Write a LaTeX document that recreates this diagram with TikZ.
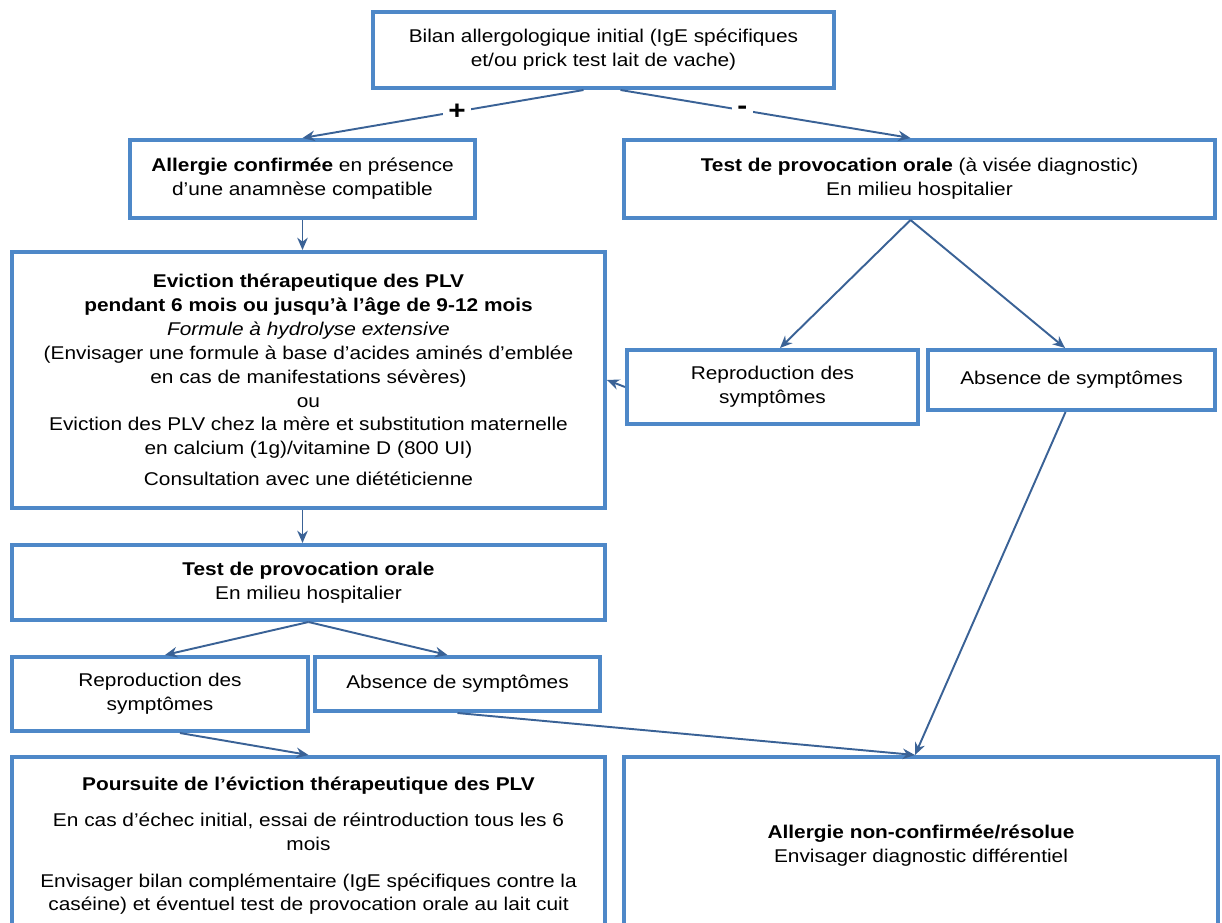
\documentclass[tikz,border=0pt]{standalone}
\usepackage{fontspec}
\setmainfont{Liberation Sans}[FakeStretch=1.13]
\usetikzlibrary{arrows.meta}
\definecolor{boxblue}{RGB}{78,136,200}
\definecolor{lineblue}{RGB}{58,98,150}

\begin{document}
\begin{tikzpicture}[x=0.02cm, y=-0.02cm,
        font=\fontsize{10.5}{13.6}\selectfont,
        box/.style={draw=boxblue, line width=2.3pt, fill=white, align=center, inner sep=2pt},
        link/.style={draw=lineblue, line width=1.1pt, -{Stealth[length=7pt, width=6pt]}}]
        \useasboundingbox (0,0) rectangle (1222,922);
        \clip (0,0) rectangle (1222,922);

        \node[box, minimum width=9.22cm, minimum height=1.52cm] (init) at (603.5,50)
            {Bilan allergologique initial (IgE spécifiques\\et/ou prick test lait de vache)};
        \node[box, minimum width=6.9cm, minimum height=1.56cm] (conf) at (302.5,179)
            {\textbf{Allergie confirmée} en présence\\d’une anamnèse compatible};
        \node[box, minimum width=11.82cm, minimum height=1.56cm] (tpoD) at (919.5,179)
            {\textbf{Test de provocation orale} (à visée diagnostic)\\En milieu hospitalier};

        \node[box, minimum width=11.86cm, minimum height=5.12cm] (evic) at (308.5,380)
            {\textbf{Eviction thérapeutique des PLV}\\
             \textbf{pendant 6 mois ou jusqu’à l’âge de 9-12 mois}\\
             \textit{Formule à hydrolyse extensive}\\
             (Envisager une formule à base d’acides aminés d’emblée\\
             en cas de manifestations sévères)\\
             ou\\
             Eviction des PLV chez la mère et substitution maternelle\\
             en calcium (1g)/vitamine D (800 UI)\\[4pt]
             Consultation avec une diététicienne};
        \node[box, minimum width=5.82cm, minimum height=1.48cm] (reprD) at (772.5,387)
            {Reproduction des\\symptômes};
        \node[box, minimum width=5.74cm, minimum height=1.2cm] (absD) at (1071.5,380)
            {Absence de symptômes};

        \node[box, minimum width=11.86cm, minimum height=1.5cm] (tpoG) at (308.5,582.5)
            {\textbf{Test de provocation orale}\\En milieu hospitalier};
        \node[box, minimum width=5.92cm, minimum height=1.48cm] (reprG) at (160,694)
            {Reproduction des\\symptômes};
        \node[box, minimum width=5.7cm, minimum height=1.08cm] (absG) at (457.5,684)
            {Absence de symptômes};

        \node[box, minimum width=11.86cm, minimum height=3.56cm] (pours) at (308.5,846)
            {\textbf{Poursuite de l’éviction thérapeutique des PLV}\\[7pt]
             En cas d’échec initial, essai de réintroduction tous les 6\\
             mois\\[7pt]
             Envisager bilan complémentaire (IgE spécifiques contre la\\
             caséine) et éventuel test de provocation orale au lait cuit};
        \node[box, minimum width=11.9cm, minimum height=3.56cm] (nonconf) at (921,846)
            {\textbf{Allergie non-confirmée/résolue}\\Envisager diagnostic différentiel};

        \draw[link] ([xshift=-0.4cm]init.south) -- (conf.north)
            node[pos=0.45, fill=white, inner sep=3pt, font=\fontsize{15}{15}\selectfont\bfseries] {+};
        \draw[link] ([xshift=0.34cm]init.south) -- ([xshift=-0.18cm]tpoD.north)
            node[pos=0.42, fill=white, inner sep=3pt, font=\fontsize{15}{15}\selectfont\bfseries] {-};
        \draw[link] (conf.south) -- (conf.south |- evic.north);
        \draw[link] ([xshift=-0.18cm]tpoD.south) -- ([xshift=0.15cm]reprD.north);
        \draw[link] ([xshift=-0.18cm]tpoD.south) -- ([xshift=-0.13cm]absD.north);
        \draw[link] (reprD.west) -- (evic.east);
        \draw[link] ([xshift=-0.12cm]absD.south) -- ([xshift=-0.12cm]nonconf.north);
        \draw[link] (evic.south -| conf.south) -- (conf.south |- tpoG.north);
        \draw[link] (tpoG.south) -- ([xshift=0.1cm]reprG.north);
        \draw[link] (tpoG.south) -- ([xshift=-0.2cm]absG.north);
        \draw[link] ([xshift=0.4cm]reprG.south) -- (pours.north);
        \draw[link] (absG.south) -- ([xshift=-0.12cm]nonconf.north);
\end{tikzpicture}
\end{document}
